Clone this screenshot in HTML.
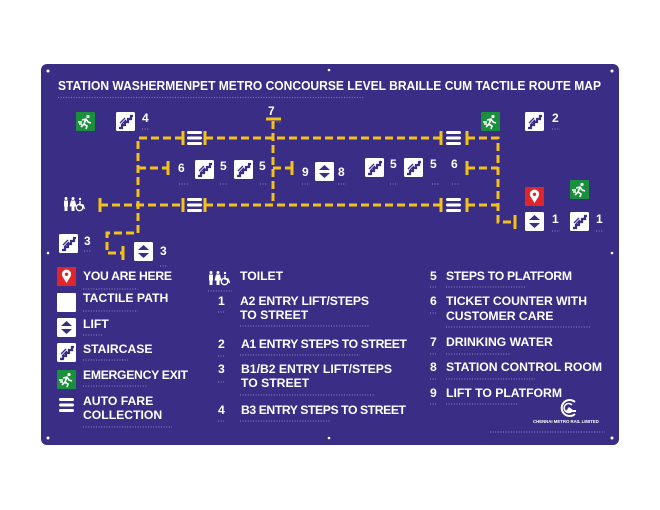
<!DOCTYPE html>
<html><head><meta charset="utf-8"><style>
html,body{margin:0;padding:0;background:#fff;}
svg{display:block;}
text{font-family:"Liberation Sans","DejaVu Sans",sans-serif;font-weight:bold;fill:#fff;}
</style></head><body>
<svg width="660" height="510" viewBox="0 0 660 510" xmlns="http://www.w3.org/2000/svg">
<defs>
<g id="st"><rect width="19" height="19" rx="1.5" fill="#fff"/><path d="M3 16 h3 v-3 h3 v-3 h3 v-3 h3 v-3 h2" stroke="#3a2d86" stroke-width="2.2" fill="none"/><path d="M4 11 l5-5 M6 12 l4-4" stroke="#3a2d86" stroke-width="1.3"/></g>
<g id="lf"><rect width="19" height="19" rx="1.5" fill="#fff"/><path d="M4 8 L9.5 3 L15 8Z M4 11 L9.5 16 L15 11Z" fill="#3a2d86"/></g>
<g id="ex"><rect width="19" height="19" rx="1" fill="#1a8f3c"/><circle cx="12" cy="4.5" r="1.6" fill="#fff"/><path d="M6 8 l4-1 l2 3 l3 1 M10 7 l-2 5 l-3 3 M8 12 l3 2 l-1 3 M2 10 h4 M3 12 h3" stroke="#fff" stroke-width="1.6" fill="none"/></g>
<g id="af"><rect x="0" y="0" width="15" height="3" rx="1.5" fill="#fff"/><rect x="0" y="5.5" width="15" height="3" rx="1.5" fill="#fff"/><rect x="0" y="11" width="15" height="3" rx="1.5" fill="#fff"/></g>
<g id="pn"><rect width="19" height="19" fill="#e0262b"/><path d="M9.5 16 L5.5 9.5 A4.6 4.6 0 1 1 13.5 9.5Z" fill="#fff"/><circle cx="9.5" cy="7.3" r="1.7" fill="#e0262b"/></g>
<g id="tl"><circle cx="3" cy="1.5" r="1.5" fill="#fff"/><rect x="1" y="3.5" width="4" height="6" fill="#fff"/><rect x="1.5" y="9" width="3" height="5" fill="#fff"/><circle cx="10" cy="1.5" r="1.5" fill="#fff"/><path d="M8 3.5 h4 l1.5 6 h-7Z" fill="#fff"/><rect x="8.5" y="9" width="3" height="5" fill="#fff"/><circle cx="17" cy="2" r="1.2" fill="#fff"/><path d="M17 4 v4 h3 l1.5 4" stroke="#fff" stroke-width="1.4" fill="none"/><circle cx="16.5" cy="10.5" r="3.2" stroke="#fff" stroke-width="1.3" fill="none"/></g>
</defs>
<rect x="41" y="64" width="578" height="381" rx="6" fill="#3a2d86"/>
<g fill="#fff"><circle cx="48" cy="71" r="1.5"/><circle cx="612" cy="71" r="1.5"/><circle cx="48" cy="438" r="1.5"/><circle cx="612" cy="438" r="1.5"/><circle cx="329" cy="70" r="1.3"/><circle cx="329" cy="438" r="1.3"/><circle cx="48" cy="253" r="1.3"/><circle cx="612" cy="253" r="1.3"/></g>
<text x="58" y="90" font-size="12.6" textLength="543" lengthAdjust="spacingAndGlyphs">STATION WASHERMENPET METRO CONCOURSE LEVEL BRAILLE CUM TACTILE ROUTE MAP</text>
<g stroke="#7f77bb" stroke-width="1.3" stroke-dasharray="1 1.6" fill="none">
<path d="M58 97.5 H364"/>
<path d="M142 129 H150 M552 129 H560 M274 122 H282 M179 184 H188 M220 184 H228 M260 184 H268 M302 184 H310 M338 184 H346 M390 184 H398 M432 184 H440 M452 184 H460 M84 251 H92 M160 266 H168 M552 231 H560 M596 231 H604"/>
<path d="M83 289 H138 M83 311 H138 M83 335 H103 M83 360 H128 M83 386 H148 M83 427 H172"/>
<path d="M208 291 H232 M218 312 H224 M240 326 H370 M218 356 H224 M240 355 H360 M218 382 H224 M240 395 H375 M218 421 H224 M240 421 H330"/>
<path d="M430 287 H436 M446 287 H525 M430 313 H436 M446 327 H590 M430 354 H436 M446 354 H510 M430 379 H436 M446 379 H535 M430 404 H436 M446 404 H518 M490 432 H605"/>
</g>
<g stroke="#f2c21b" stroke-width="3" fill="none">
<g stroke-dasharray="8 4">
<path d="M183 138 H138 V233 H107 V253 H122"/>
<path d="M138 168 H167"/>
<path d="M205 138 H441"/>
<path d="M273 121 V205"/>
<path d="M273 168 H292"/>
<path d="M100 205 H183"/>
<path d="M205 205 H441"/>
<path d="M467 138 H498 V222 H514"/>
<path d="M467 168 H498"/>
<path d="M467 205 H498"/>
</g>
<path d="M183 131 V145 M205 131 V145 M441 131 V145 M467 131 V145 M100 198 V212 M183 198 V212 M205 198 V212 M441 198 V212 M467 198 V212 M168 161 V175 M292 161 V175 M467 161 V175 M123 246 V260 M515 215 V229 M266 119 H281"/>
</g>
<use href="#ex" x="76" y="112"/>
<use href="#st" x="116" y="112"/><text x="142" y="122" font-size="12">4</text>
<use href="#af" x="187" y="131"/><use href="#af" x="446" y="131"/>
<use href="#af" x="187" y="198"/><use href="#af" x="446" y="198"/>
<text x="268" y="115" font-size="12">7</text>
<text x="178" y="172" font-size="12">6</text>
<use href="#st" x="195" y="160"/><text x="220" y="170" font-size="12">5</text>
<use href="#st" x="234" y="160"/><text x="259" y="170" font-size="12">5</text>
<text x="302" y="176" font-size="12">9</text>
<use href="#lf" x="315" y="162"/><text x="338" y="176" font-size="12">8</text>
<use href="#st" x="365" y="158"/><text x="390" y="168" font-size="12">5</text>
<use href="#st" x="404" y="158"/><text x="430" y="168" font-size="12">5</text>
<text x="451" y="168" font-size="12">6</text>
<use href="#ex" x="481" y="112"/>
<use href="#st" x="525" y="112"/><text x="552" y="122" font-size="12">2</text>
<use href="#pn" x="525" y="187"/>
<use href="#ex" x="570" y="180"/>
<use href="#lf" x="525" y="212"/><text x="552" y="223" font-size="12">1</text>
<use href="#st" x="570" y="212"/><text x="596" y="223" font-size="12">1</text>
<use href="#tl" x="63" y="197"/>
<use href="#st" x="59" y="234"/><text x="84" y="245" font-size="12">3</text>
<use href="#lf" x="134" y="242"/><text x="160" y="255" font-size="12">3</text>

<g font-size="12.2">
<use href="#pn" x="57" y="267"/><text x="83" y="280" textLength="89">YOU ARE HERE</text>
<rect x="57" y="293" width="19" height="19" rx="1" fill="#fff"/><text x="83" y="302">TACTILE PATH</text>
<use href="#lf" x="57" y="318"/><text x="83" y="328">LIFT</text>
<use href="#st" x="57" y="343"/><text x="83" y="353">STAIRCASE</text>
<use href="#ex" x="57" y="370"/><text x="83" y="379" textLength="105">EMERGENCY EXIT</text>
<use href="#af" x="59" y="398"/><text x="83" y="405">AUTO FARE</text><text x="83" y="419">COLLECTION</text>

<use href="#tl" x="208" y="271"/><text x="240" y="280">TOILET</text>
<text x="218" y="305">1</text><text x="240" y="305" textLength="129">A2 ENTRY LIFT/STEPS</text><text x="240" y="319">TO STREET</text>
<text x="218" y="348">2</text><text x="241" y="348" textLength="166">A1 ENTRY STEPS TO STREET</text>
<text x="218" y="373">3</text><text x="241" y="373" textLength="151">B1/B2 ENTRY LIFT/STEPS</text><text x="241" y="387">TO STREET</text>
<text x="218" y="414">4</text><text x="241" y="414" textLength="165">B3 ENTRY STEPS TO STREET</text>

<text x="430" y="280">5</text><text x="446" y="280" textLength="126">STEPS TO PLATFORM</text>
<text x="430" y="305">6</text><text x="446" y="305" textLength="141">TICKET COUNTER WITH</text><text x="446" y="320">CUSTOMER CARE</text>
<text x="430" y="346">7</text><text x="446" y="346">DRINKING WATER</text>
<text x="430" y="371">8</text><text x="446" y="371" textLength="156">STATION CONTROL ROOM</text>
<text x="430" y="397">9</text><text x="446" y="397">LIFT TO PLATFORM</text>
</g>
<path d="M575 402 A8 8 0 1 0 575 414" stroke="#fff" stroke-width="2" fill="none"/><path d="M572 405 A4.5 4.5 0 1 0 572 411" stroke="#fff" stroke-width="1.5" fill="none"/><path d="M566 411 l3-4 l4 3 h3 v2 h-10Z" fill="#fff"/>
<text x="533" y="423" font-size="4.3">CHENNAI METRO RAIL LIMITED</text>
</svg>
</body></html>
